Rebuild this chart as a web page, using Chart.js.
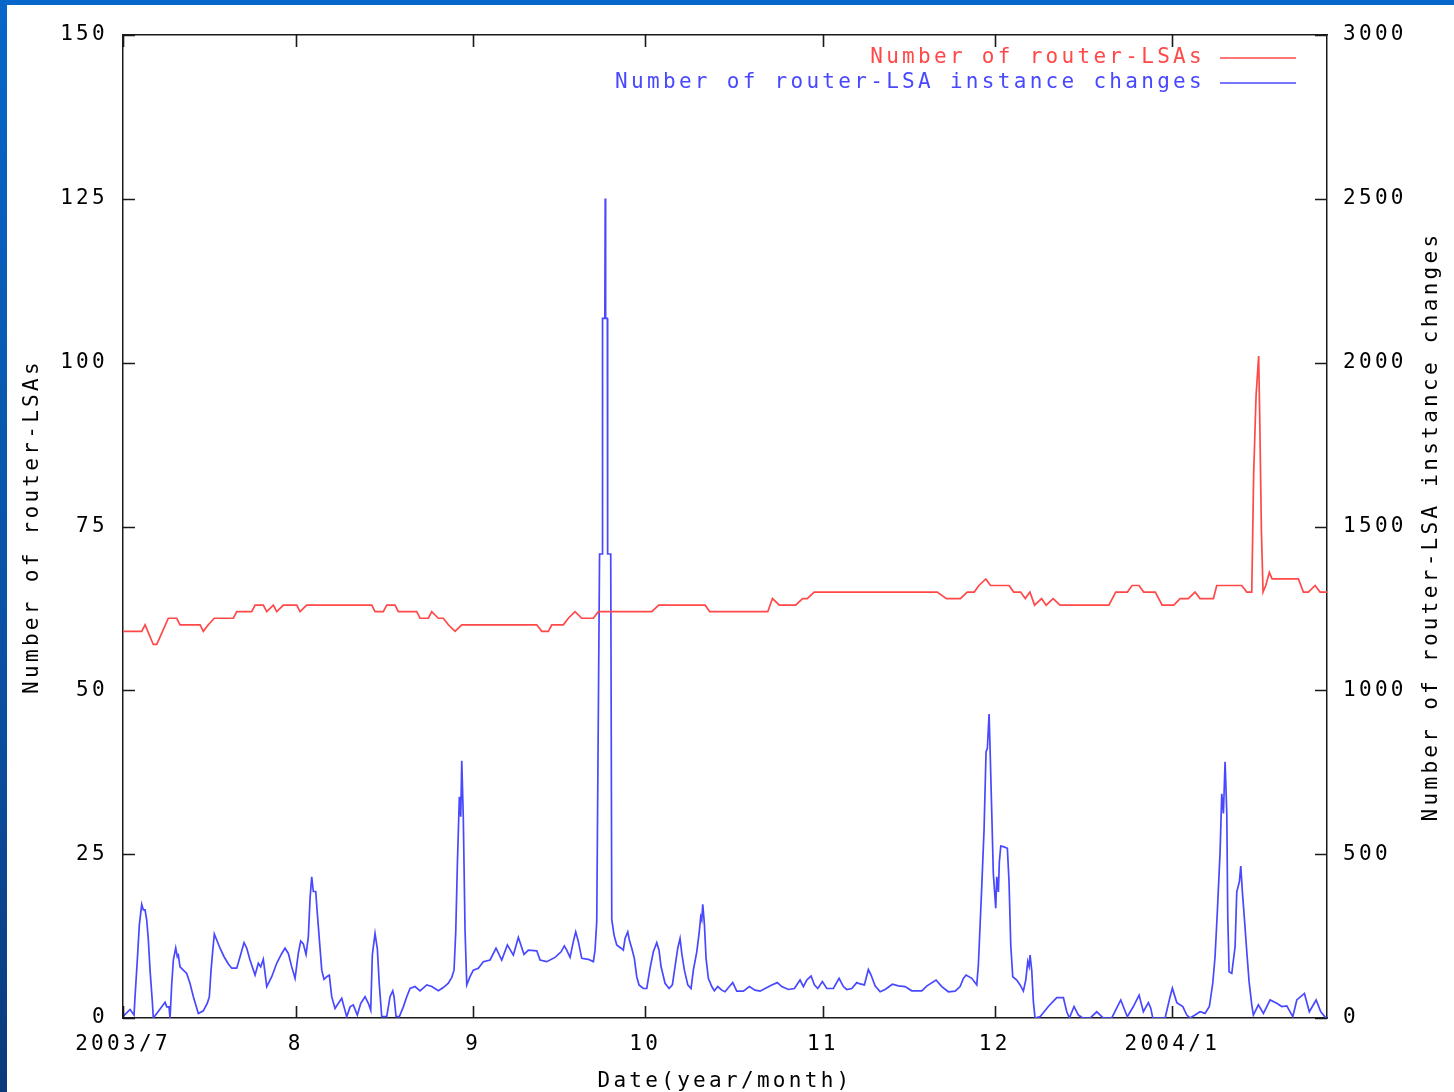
<!DOCTYPE html>
<html>
<head>
<meta charset="utf-8">
<title>router-LSAs</title>
<script src="https://cdn.jsdelivr.net/npm/chart.js@4.4.1/dist/chart.umd.min.js"></script>
<style>
    html, body { margin: 0; padding: 0; }
    body {
        width: 1454px; height: 1092px; overflow: hidden; position: relative;
        background: linear-gradient(#0766c9, #0a4c9c 70%, #0b3a7a);
    }
    #wrap { position: absolute; left: 7px; top: 5px; width: 1447px; height: 1087px; background: #fff; }
    canvas { display: block; }
</style>
</head>
<body>
<div id="wrap"><canvas id="lsaChart" width="1447" height="1087"></canvas></div>
<script>
// x = days counted from 2003/7/1
const monthTickDays = [0.85, 31, 62, 92, 123, 153, 184];
const monthTickLabels = ['2003/7', '8', '9', '10', '11', '12', '2004/1'];
const xMin = 0.85, xMax = 211;

// Number of router-LSAs (left axis)
const lsaDays = [
    0.86, 4.12, 4.70, 6.14, 6.74, 8.76, 10.23, 10.80, 14.30, 14.87,
    15.74, 16.79, 20.11, 20.70, 23.32, 23.90, 25.34, 25.94, 27.09, 27.68,
    28.84, 31.17, 31.75, 32.92, 44.27, 44.84, 46.29, 46.88, 48.33, 48.91,
    52.12, 52.70, 54.15, 54.74, 55.89, 56.76, 57.64, 58.81, 59.98, 73.07,
    73.94, 75.09, 75.69, 77.71, 78.58, 79.75, 80.92, 82.95, 83.82, 93.14,
    94.36, 102.46, 103.26, 113.39, 114.21, 115.41, 118.26, 119.46, 120.28, 121.49,
    142.96, 144.58, 147.01, 148.21, 149.43, 150.24, 151.46, 152.26, 155.51, 156.31,
    157.53, 158.33, 159.15, 159.96, 161.18, 161.98, 163.20, 164.41, 172.93, 174.13,
    176.16, 176.98, 178.18, 179.00, 181.03, 182.23, 184.26, 185.36, 186.80, 187.97,
    188.84, 191.17, 191.76, 196.12, 197.00, 197.87, 197.98, 198.20, 198.62, 199.07,
    199.25, 199.56, 199.84, 200.31, 200.94, 201.42, 206.01, 206.88, 207.75, 208.92,
    209.79, 211.0
];
const lsaCounts = [
    59, 59, 60, 57, 57, 61, 61, 60, 60, 59,
    60, 61, 61, 62, 62, 63, 63, 62, 63, 62,
    63, 63, 62, 63, 63, 62, 62, 63, 63, 62,
    62, 61, 61, 62, 61, 61, 60, 59, 60, 60,
    59, 59, 60, 60, 61, 62, 61, 61, 62, 62,
    63, 63, 62, 62, 64, 63, 63, 64, 64, 65,
    65, 64, 64, 65, 65, 66, 67, 66, 66, 65,
    65, 64, 65, 63, 64, 63, 64, 63, 63, 65,
    65, 66, 66, 65, 65, 63, 63, 64, 64, 65,
    64, 64, 66, 66, 65, 65, 71, 83, 95, 101,
    92, 74, 65, 66, 68, 67, 67, 65, 65, 66,
    65, 65
];

// Number of router-LSA instance changes (right axis)
const changeDays = [
    0.86, 2.08, 2.78, 2.95, 3.35, 3.70, 4.12, 4.40, 4.70, 4.99,
    5.27, 5.57, 5.97, 6.14, 6.74, 7.61, 8.19, 8.48, 8.88, 9.06,
    9.36, 9.64, 10.05, 10.33, 10.51, 10.80, 11.38, 11.97, 12.55, 13.13,
    14.00, 14.87, 15.57, 15.92, 16.22, 16.51, 16.79, 17.21, 17.79, 18.49,
    19.24, 19.83, 20.70, 21.28, 21.98, 22.45, 23.02, 23.90, 24.47, 24.89,
    25.34, 25.94, 26.81, 27.68, 28.56, 29.13, 29.71, 30.30, 30.88, 31.45,
    31.87, 32.33, 32.80, 33.20, 33.50, 33.79, 34.07, 34.49, 34.77, 35.12,
    35.54, 35.94, 36.41, 36.86, 37.28, 37.86, 38.44, 39.03, 39.43, 39.90,
    40.48, 41.05, 41.75, 42.35, 43.10, 43.67, 44.09, 44.37, 44.84, 45.24,
    45.59, 46.01, 46.88, 47.46, 47.93, 48.16, 48.51, 49.08, 49.78, 50.38,
    50.95, 51.82, 52.70, 53.87, 54.74, 55.89, 56.76, 57.64, 58.23, 58.63,
    58.93, 59.21, 59.56, 59.80, 59.98, 60.25, 60.55, 60.85, 61.42, 62.00,
    62.87, 63.75, 64.92, 65.96, 66.96, 67.94, 68.98, 69.86, 70.85, 71.60,
    73.07, 73.64, 74.81, 76.26, 77.31, 77.88, 78.30, 78.88, 79.45, 79.87,
    80.33, 80.92, 82.07, 82.95, 83.24, 83.54, 84.03, 84.47, 84.55, 84.95,
    85.02, 85.09, 85.39, 85.44, 85.98, 86.16, 86.56, 87.03, 87.78, 88.18,
    88.48, 88.95, 89.23, 89.65, 90.10, 90.52, 90.92, 91.67, 92.27, 92.85,
    93.42, 94.01, 94.41, 94.76, 95.46, 96.16, 96.74, 97.33, 97.68, 98.08,
    98.38, 98.84, 99.43, 100.00, 100.40, 101.00, 101.40, 101.69, 101.87, 102.04,
    102.32, 102.62, 103.02, 103.62, 104.07, 104.66, 105.36, 105.93, 106.68, 107.28,
    107.98, 109.13, 110.18, 111.17, 112.04, 112.92, 114.09, 115.06, 115.83, 116.99,
    118.03, 119.03, 119.61, 120.20, 120.95, 121.52, 122.12, 122.92, 123.69, 124.84,
    125.84, 126.59, 127.18, 128.05, 128.93, 129.50, 130.25, 130.95, 131.42, 132.12,
    133.00, 133.87, 135.14, 136.19, 137.36, 138.52, 140.27, 141.18, 142.77, 143.76,
    144.92, 146.09, 146.96, 147.53, 148.00, 149.00, 149.87, 150.15, 150.44, 150.74,
    151.14, 151.49, 151.72, 152.02, 152.19, 152.48, 152.76, 153.18, 153.36, 153.64,
    153.81, 154.06, 154.51, 155.21, 155.50, 155.80, 156.15, 156.85, 157.43, 158.00,
    158.42, 158.77, 159.00, 159.17, 159.47, 159.75, 160.04, 160.92, 162.36, 163.83,
    164.99, 165.58, 166.04, 166.85, 167.61, 168.37, 169.64, 170.81, 171.97, 173.43,
    175.00, 176.15, 177.20, 178.20, 178.95, 179.82, 180.24, 180.59, 182.74, 183.61,
    184.01, 184.78, 185.83, 186.53, 187.10, 187.96, 188.84, 189.71, 190.47, 191.06,
    191.46, 191.87, 192.34, 192.63, 192.92, 193.21, 193.51, 193.68, 193.91, 194.38,
    194.96, 195.25, 195.71, 195.95, 196.23, 196.58, 197.00, 197.40, 197.87, 198.15,
    199.02, 199.90, 201.07, 202.24, 203.11, 203.98, 205.03, 205.73, 207.06, 207.92,
    209.10, 209.92, 210.67, 211.0
];
const changeCounts = [
    5, 26, 9, 65, 177, 284, 347, 330, 330, 299,
    240, 146, 50, 0, 14, 34, 48, 34, 34, 0,
    105, 177, 214, 187, 192, 156, 146, 136, 105, 65,
    14, 22, 45, 65, 146, 205, 256, 238, 213, 187,
    165, 152, 152, 187, 230, 213, 177, 131, 167, 156,
    179, 96, 126, 167, 197, 213, 197, 156, 121, 197,
    235, 226, 194, 248, 365, 431, 386, 386, 319, 240,
    146, 118, 126, 131, 65, 29, 45, 60, 34, 4,
    34, 40, 9, 45, 65, 45, 24, 192, 258, 212,
    101, 4, 4, 65, 83, 65, 4, 4, 34, 65,
    90, 96, 83, 101, 96, 83, 93, 106, 124, 146,
    263, 467, 675, 614, 785, 609, 268, 101, 126, 146,
    152, 172, 177, 213, 177, 223, 192, 246, 194, 207,
    205, 177, 172, 185, 202, 220, 207, 185, 233, 263,
    233, 182, 179, 172, 207, 294, 1416, 1416, 2135, 2135,
    2501, 2135, 2135, 1416, 1416, 301, 253, 223, 213, 207,
    243, 263, 238, 213, 182, 126, 101, 90, 90, 152,
    202, 230, 207, 157, 106, 90, 101, 172, 213, 243,
    197, 146, 101, 90, 146, 202, 258, 309, 299, 347,
    289, 182, 121, 96, 83, 96, 85, 80, 96, 108,
    82, 82, 96, 85, 82, 90, 101, 108, 96, 87,
    90, 116, 96, 116, 128, 101, 90, 111, 90, 90,
    121, 96, 87, 90, 108, 104, 101, 148, 131, 98,
    80, 87, 103, 98, 96, 83, 83, 98, 116, 96,
    80, 82, 96, 121, 131, 121, 101, 162, 279, 401,
    574, 813, 823, 928, 823, 630, 441, 335, 431, 385,
    477, 525, 523, 518, 416, 223, 126, 116, 101, 82,
    116, 172, 157, 192, 144, 50, 0, 4, 35, 62,
    62, 19, 0, 35, 9, 0, 0, 19, 0, 0,
    55, 4, 35, 70, 19, 47, 30, 0, 0, 65,
    91, 47, 35, 9, 0, 9, 19, 14, 35, 106,
    187, 328, 507, 684, 624, 782, 624, 309, 141, 136,
    218, 385, 416, 464, 385, 304, 202, 111, 40, 9,
    40, 14, 55, 45, 35, 37, 4, 55, 75, 19,
    55, 19, 3, 0
];

const seriesNames = ['Number of router-LSAs', 'Number of router-LSA instance changes'];
const axisTitles = ['Date(year/month)', 'Number of router-LSAs', 'Number of router-LSA instance changes'];

if (lsaDays.length !== lsaCounts.length || changeDays.length !== changeCounts.length) {
    throw new Error('length mismatch ' + lsaDays.length + '/' + lsaCounts.length + ' ' + changeDays.length + '/' + changeCounts.length);
}

const RED = '#ff4848';
const BLUE = '#4848ff';
const FONT = { family: "'DejaVu Sans Mono', 'Liberation Mono', monospace", size: 21 };
const FRAME = '#1a1a1a';
const SPACING = '3.3px';
const TICK_LEN = 12;

// gnuplot look: wide monospace text, inward tics, legend inside plot, right title bottom-to-top
const gnuplotLook = {
    id: 'gnuplotLook',
    beforeLayout(chart) { chart.ctx.letterSpacing = SPACING; },
    beforeDraw(chart) { chart.ctx.letterSpacing = SPACING; },
    afterDraw(chart) {
        const ctx = chart.ctx;
        const area = chart.chartArea;
        const sx = chart.scales.x, sy = chart.scales.y, sy2 = chart.scales.y2;
        ctx.save();

        // inward tic marks (x mirrored on top)
        ctx.strokeStyle = FRAME;
        ctx.lineWidth = 1.6;
        ctx.beginPath();
        sx.ticks.forEach(t => {
            const px = Math.round(sx.getPixelForValue(t.value)) + 0.5;
            ctx.moveTo(px, area.bottom); ctx.lineTo(px, area.bottom - TICK_LEN);
            ctx.moveTo(px, area.top); ctx.lineTo(px, area.top + TICK_LEN);
        });
        sy.ticks.forEach(t => {
            const py = Math.round(sy.getPixelForValue(t.value)) + 0.5;
            ctx.moveTo(area.left, py); ctx.lineTo(area.left + TICK_LEN, py);
        });
        sy2.ticks.forEach(t => {
            const py = Math.round(sy2.getPixelForValue(t.value)) + 0.5;
            ctx.moveTo(area.right, py); ctx.lineTo(area.right - TICK_LEN, py);
        });
        ctx.stroke();

        ctx.letterSpacing = SPACING;
        ctx.font = FONT.size + 'px ' + FONT.family;
        ctx.textBaseline = 'middle';

        // legend (text then sample line)
        chart.data.datasets.forEach((ds, i) => {
            const y = area.top + 23 + i * 25;
            ctx.fillStyle = ds.borderColor;
            ctx.textAlign = 'right';
            ctx.fillText(ds.label, area.right - 122, y);
            ctx.strokeStyle = ds.borderColor;
            ctx.lineWidth = ds.borderWidth;
            ctx.beginPath();
            ctx.moveTo(area.right - 107, y);
            ctx.lineTo(area.right - 31, y);
            ctx.stroke();
        });

        // right axis title
        ctx.fillStyle = '#000';
        ctx.textAlign = 'center';
        ctx.translate(chart.width - 22, (area.top + area.bottom) / 2);
        ctx.rotate(-Math.PI / 2);
        ctx.fillText(axisTitles[2], 0, 0);
        ctx.restore();
    }
};

const monthTicks = s => { s.ticks = monthTickDays.map(v => ({ value: v })); };
const plainNumber = v => String(v);
const noGrid = { display: false, drawTicks: false };

const ctx = document.getElementById('lsaChart').getContext('2d');
const lsaChart = new Chart(ctx, {
    type: 'line',
    data: {
        datasets: [
            {
                label: seriesNames[0],
                data: lsaDays.map((d, i) => ({ x: d, y: lsaCounts[i] })),
                borderColor: RED,
                borderWidth: 1.7,
                pointRadius: 0,
                tension: 0,
                yAxisID: 'y'
            },
            {
                label: seriesNames[1],
                data: changeDays.map((d, i) => ({ x: d, y: changeCounts[i] })),
                borderColor: BLUE,
                borderWidth: 1.7,
                pointRadius: 0,
                tension: 0,
                yAxisID: 'y2'
            }
        ]
    },
    options: {
        responsive: false,
        animation: false,
        devicePixelRatio: 1,
        // y tick labels ask for ~28.6px above the plot; 30 wins over that
        layout: { padding: { top: 30, left: 0, right: 0, bottom: 0 } },
        plugins: { legend: { display: false }, tooltip: { enabled: false } },
        scales: {
            x: {
                type: 'linear', position: 'bottom', min: xMin, max: xMax,
                afterBuildTicks: monthTicks,
                afterFit: s => { s.height = 74; },
                ticks: {
                    autoSkip: false, maxRotation: 0, minRotation: 0, padding: 14,
                    color: '#000', font: FONT,
                    callback: (v, i) => monthTickLabels[i]
                },
                grid: noGrid,
                border: { color: FRAME, width: 1.5 },
                title: { display: true, text: axisTitles[0], color: '#000', font: FONT, padding: { top: 0, bottom: -2 } }
            },
            xTop: {
                type: 'linear', position: 'top', min: xMin, max: xMax,
                afterBuildTicks: monthTicks,
                afterFit: s => { s.height = 0; },
                ticks: { display: false },
                grid: noGrid,
                border: { color: FRAME, width: 1.5 }
            },
            y: {
                position: 'left', min: 0, max: 150,
                afterFit: s => { s.width = 116; },
                ticks: { stepSize: 25, padding: 15, color: '#000', font: FONT, callback: plainNumber },
                grid: noGrid,
                border: { color: FRAME, width: 1.5 },
                title: { display: true, text: axisTitles[1], color: '#000', font: FONT, padding: { top: 13, bottom: 0 } }
            },
            y2: {
                position: 'right', min: 0, max: 3000,
                afterFit: s => { s.width = 127; },
                ticks: { stepSize: 500, padding: 16, color: '#000', font: FONT, callback: plainNumber },
                grid: noGrid,
                border: { color: FRAME, width: 1.5 }
            }
        }
    },
    plugins: [gnuplotLook]
});
</script>
</body>
</html>
